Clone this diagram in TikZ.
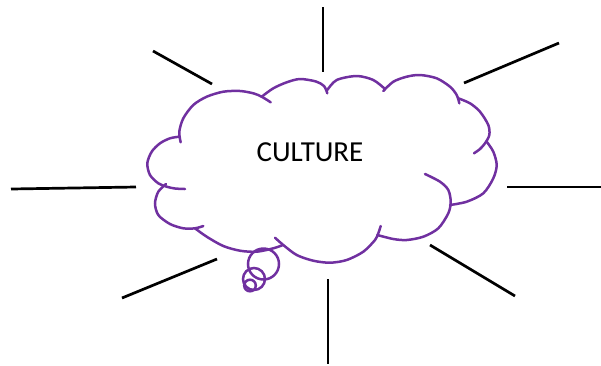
\documentclass[tikz,border=0pt]{standalone}
\usepackage{fontspec}
\setmainfont{Carlito}
\usetikzlibrary{positioning}
\definecolor{cpurple}{HTML}{7030A0}

\begin{document}
\begin{tikzpicture}[x=1pt, y=-1pt,
  puff/.style={draw=cpurple, line width=2.5pt, line cap=round},
  spoke/.style={draw=black, line width=2.7pt},
  lbl/.style={font=\fontsize{29}{34}\selectfont, inner sep=0pt}
]
\useasboundingbox (0,0) rectangle (601,365);
% cloud bumps, clockwise from the left
\draw[puff] plot[smooth] coordinates {(180.7,142.3) (179.3,131.7) (183.3,118.3) (193.3,105) (206.7,96.7) (223.3,91.7) (240,91) (253.3,93.3) (261.7,96.7) (270.7,102.3)};
\draw[puff] plot[smooth] coordinates {(261.7,96.7) (273.3,88.3) (286.7,82.3) (300,79) (316,81.5) (324,86) (327.3,93.3)};
\draw[puff] plot[smooth] coordinates {(327.3,90) (336.7,80) (356.7,76) (373.3,80) (385,89)};
\draw[puff] plot[smooth] coordinates {(383.3,91) (393.3,81.7) (406.7,76.7) (420,75) (436.7,78.3) (450,86.7) (456.7,95) (459.3,103.3)};
\draw[puff] plot[smooth] coordinates {(458.3,98.3) (470,103.3) (480,111.7) (488.3,125) (489.3,135) (485,143.3) (480,149) (474,153.3)};
\draw[puff] plot[smooth] coordinates {(486.7,141.7) (493.3,151.7) (496.7,165) (493.3,178.3) (483.3,193.3) (466.7,201.7) (450,205)};
\draw[puff] plot[smooth] coordinates {(425,174) (440,181.7) (448.3,190) (450.7,201.7) (448.3,213.3) (438.3,228.3) (423.3,236.7) (406.7,240) (393.3,239) (377.3,235)};
\draw[puff] plot[smooth] coordinates {(380.7,226) (378.3,233.3) (375,240) (363.3,251.7) (346.7,260) (330,262.7) (313.3,260.7) (296.7,255) (283.3,245) (275,237.7)};
\draw[puff] plot[smooth] coordinates {(283,245) (273.3,248.3) (256.7,251.7) (240,250.7) (223.3,246) (206.7,236.7) (195,228.3)};
\draw[puff] plot[smooth] coordinates {(203.3,226) (195,228.3) (183.3,228.3) (170,224) (158.3,215) (155,203.3) (158.3,191.7) (166,184)};
\draw[puff] plot[smooth] coordinates {(185,189) (175,188.5) (166.7,186.7) (158.3,183.3) (150,175) (147.3,163.3) (151.7,151.7) (160,143.3) (170,138.3) (179.3,136.7)};
% thought bubbles
\draw[puff] (263.5,264) circle[radius=15.5pt];
\draw[puff] (254,279) circle[radius=11pt];
\draw[puff] (250,285.5) circle[radius=5.8pt];

\node[lbl] (cult) at (310,152.5) {CULTURE};

% spokes round the cloud
\foreach \xa/\ya/\xb/\yb in {153/51/212/84, 323/7/323/72, 464/83/559/43, 11/189/136/187,
                   507/187/601/187, 122/298/217/259, 328/279/328/364, 430/245/515/296}
  \draw[spoke] (\xa,\ya) -- (\xb,\yb);
\end{tikzpicture}
\end{document}
